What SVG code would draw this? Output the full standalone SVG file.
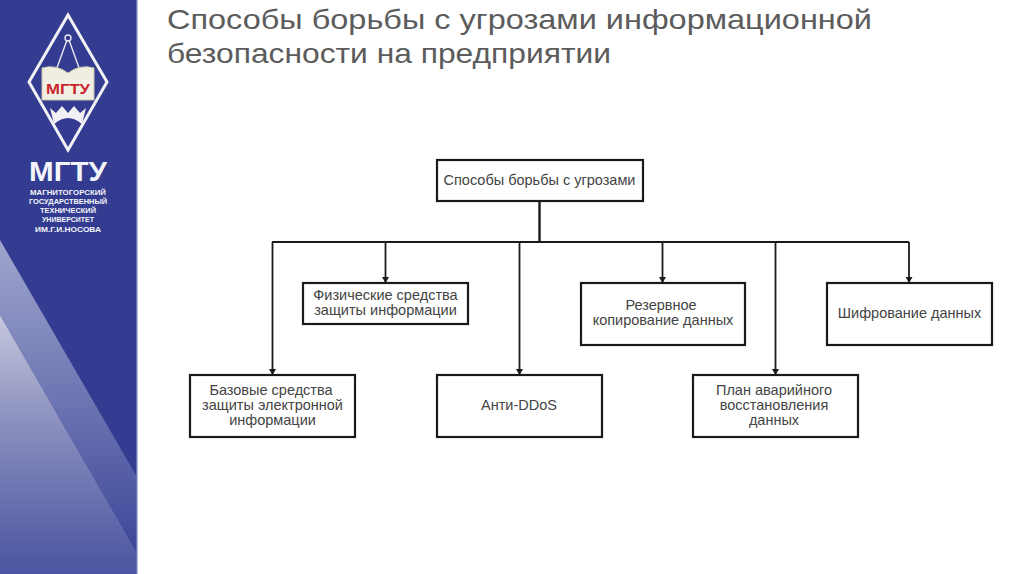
<svg xmlns="http://www.w3.org/2000/svg" width="1024" height="574" viewBox="0 0 1024 574">
<style>
.n{fill:#fff;stroke:#1a1a1a;stroke-width:2.2}
.l{font-family:"Liberation Sans",Arial,sans-serif;font-size:14.5px;fill:#444;text-anchor:middle}
.t{font-family:"Liberation Sans",Arial,sans-serif;font-size:28px;fill:#5c5c5c}
.c{fill:none;stroke:#1a1a1a;stroke-width:1.8}
.w{font-family:"Liberation Sans",Arial,sans-serif;font-weight:700;fill:#f4f5fa;text-anchor:middle}
</style>
<defs>
<marker id="a" markerUnits="userSpaceOnUse" markerWidth="7" markerHeight="7" refX="6" refY="3.500" orient="auto"><path d="M0 0L6 3.500L0 7Z" fill="#1a1a1a"/></marker>
<linearGradient id="g1" x1="0" y1="0" x2="0" y2="1"><stop offset="0" stop-color="#a0a6cd"/><stop offset="1" stop-color="#3c4698"/></linearGradient>
<linearGradient id="g2" x1="0" y1="0" x2="0" y2="1"><stop offset="0" stop-color="#c6c8dd"/><stop offset="0.4" stop-color="#8c91bf"/><stop offset="1" stop-color="#4a54a0"/></linearGradient>
</defs>
<rect width="1024" height="574" fill="#fff"/>
<g id="sidebar">
<rect x="0" y="0" width="137" height="574" fill="#333c90"/>
<path d="M0 240L137 477V553L0 315Z" fill="url(#g1)"/>
<path d="M0 315L137 553V574H0Z" fill="url(#g2)"/>
<rect x="136" y="0" width="1.500" height="574" fill="#6b73b0"/>
</g>
<g id="logo">
<path d="M68 15L107 82L68 150L29 82Z" fill="#333c90" stroke="#f1f1f6" stroke-width="3"/>
<path d="M67 40L54 76M69 40L82 76" fill="none" stroke="#e8e8f0" stroke-width="1.400"/>
<circle cx="68" cy="38" r="3" fill="none" stroke="#e8e8f0" stroke-width="1.400"/>
<path d="M42 68Q56 64 68 73Q80 64 94 68V100H42Z" fill="#f0eee2" stroke="#c9c6a8"/>
<rect x="46" y="79" width="44" height="16" fill="#f3f0e6"/>
<text x="68" y="94" font-family="Liberation Sans,Arial,sans-serif" font-size="15" font-weight="700" fill="#c8242c" text-anchor="middle" textLength="44" lengthAdjust="spacingAndGlyphs">МГТУ</text>
<path d="M50 108L56 113L62 106L68 113L74 106L80 113L86 108L82 124Q68 112 54 124Z" fill="#f0f0f5"/>
</g>
<g id="brand">
<text class="w" x="68" y="181" font-size="27" textLength="78" lengthAdjust="spacingAndGlyphs">МГТУ</text>
<text class="w" x="68" y="195" font-size="6.500" textLength="76" lengthAdjust="spacingAndGlyphs">МАГНИТОГОРСКИЙ</text>
<text class="w" x="68" y="204" font-size="6.500" textLength="78" lengthAdjust="spacingAndGlyphs">ГОСУДАРСТВЕННЫЙ</text>
<text class="w" x="68" y="213" font-size="6.500" textLength="56" lengthAdjust="spacingAndGlyphs">ТЕХНИЧЕСКИЙ</text>
<text class="w" x="68" y="222" font-size="6.500" textLength="52" lengthAdjust="spacingAndGlyphs">УНИВЕРСИТЕТ</text>
<text class="w" x="68" y="232" font-size="6.500" textLength="66" lengthAdjust="spacingAndGlyphs">ИМ.Г.И.НОСОВА</text>
</g>
<g id="title">
<text class="t" x="167" y="29" textLength="705" lengthAdjust="spacingAndGlyphs">Способы борьбы с угрозами информационной</text>
<text class="t" x="167" y="63" textLength="444" lengthAdjust="spacingAndGlyphs">безопасности на предприятии</text>
</g>
<g id="connectors">
<path class="c" d="M539.500 201V242" style="stroke-width:2.400"/>
<path class="c" d="M272 242H909" style="stroke-width:2"/>
<path class="c" d="M272.500 242V375" marker-end="url(#a)"/>
<path class="c" d="M385.500 242V283" marker-end="url(#a)"/>
<path class="c" d="M519.500 242V375" marker-end="url(#a)"/>
<path class="c" d="M662.500 242V283" marker-end="url(#a)"/>
<path class="c" d="M775.500 242V375" marker-end="url(#a)"/>
<path class="c" d="M909 242V283" marker-end="url(#a)"/>
</g>
<g id="n0"><rect class="n" x="437" y="160" width="206" height="41"/><text class="l" x="539.500" y="185">Способы борьбы с угрозами</text></g>
<g id="n1"><rect class="n" x="303" y="283" width="165" height="41"/><text class="l" x="385.500" y="300">Физические средства</text><text class="l" x="385.500" y="315">защиты информации</text></g>
<g id="n2"><rect class="n" x="190" y="375" width="165" height="62"/><text class="l" x="271" y="395">Базовые средства</text><text class="l" x="272.500" y="410">защиты электронной</text><text class="l" x="272.500" y="425">информации</text></g>
<g id="n3"><rect class="n" x="437" y="375" width="165" height="62"/><text class="l" x="519" y="410">Анти-DDoS</text></g>
<g id="n4"><rect class="n" x="581" y="283" width="164" height="62"/><text class="l" x="661" y="310">Резервное</text><text class="l" x="663" y="325">копирование данных</text></g>
<g id="n5"><rect class="n" x="827" y="283" width="165" height="62"/><text class="l" x="909.500" y="318">Шифрование данных</text></g>
<g id="n6"><rect class="n" x="693" y="375" width="165" height="62"/><text class="l" x="774" y="395">План аварийного</text><text class="l" x="774" y="410">восстановления</text><text class="l" x="774" y="425">данных</text></g>
</svg>
